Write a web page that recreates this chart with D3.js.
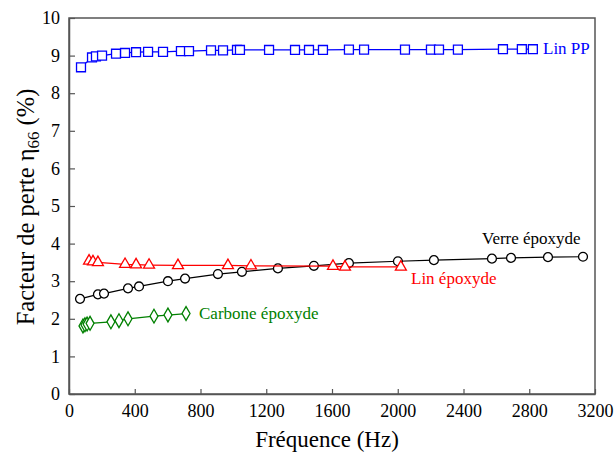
<!DOCTYPE html>
<html>
<head>
<meta charset="utf-8">
<script src="https://cdn.jsdelivr.net/npm/d3@7"></script>
<style>
body{margin:0;background:#fff;}
svg text{font-family:'Liberation Serif',serif;}
</style>
</head>
<body>
<div id="chart"></div>
<script>
// Lin PP (squares)
var linPP_x=[73,140,164,201,286,341,408,481,572,681,730,864,937,1022,1040,1217,1375,1460,1545,1703,1795,2044,2202,2251,2366,2640,2755,2822];
var linPP_y=[8.69,8.95,8.98,9.00,9.05,9.07,9.09,9.10,9.10,9.12,9.12,9.14,9.14,9.15,9.15,9.15,9.15,9.15,9.15,9.16,9.16,9.16,9.16,9.16,9.16,9.17,9.17,9.17];
// Verre epoxyde (circles)
var verre_x=[67,176,213,359,426,602,706,906,1052,1271,1490,1703,2001,2220,2573,2689,2914,3127];
var verre_y=[2.53,2.65,2.67,2.81,2.86,3.00,3.07,3.19,3.25,3.34,3.41,3.48,3.53,3.56,3.60,3.62,3.64,3.65];
// Lin epoxyde (triangles)
var linEp_x=[122,146,176,341,408,487,663,967,1107,1606,1679,2019];
var linEp_y=[3.54,3.52,3.50,3.45,3.44,3.43,3.42,3.42,3.41,3.40,3.38,3.38];
// Carbone epoxyde (diamonds)
var carb_x=[85,97,110,128,255,304,359,517,602,712];
var carb_y=[1.81,1.84,1.86,1.88,1.92,1.95,2.00,2.07,2.10,2.14];

var xTicks=[0,400,800,1200,1600,2000,2400,2800,3200];
var yTicks=[0,1,2,3,4,5,6,7,8,9,10];

var width=615,height=454;
var m_left=69,m_right=595,m_top=18,m_bottom=394;

var svg=d3.select('#chart').append('svg')
    .attr('width',width)
    .attr('height',height)
    .attr('font-family','Liberation Serif');

var x=d3.scaleLinear().domain([0,3200]).range([m_left,m_right]);
var y=d3.scaleLinear().domain([0,10]).range([m_bottom,m_top]);

// frame
svg.append('rect')
    .attr('x',m_left).attr('y',m_top)
    .attr('width',m_right-m_left).attr('height',m_bottom-m_top)
    .style('fill','none').style('stroke','#555').style('stroke-width',1.5);

var xAxis=svg.append('g')
    .attr('transform','translate(0,'+m_bottom+')')
    .call(d3.axisBottom(x).tickValues(xTicks).tickFormat(d3.format('d')).tickSizeInner(-5).tickSizeOuter(0).tickPadding(10));
var yAxis=svg.append('g')
    .attr('transform','translate('+m_left+',0)')
    .call(d3.axisLeft(y).tickValues(yTicks).tickFormat(d3.format('d')).tickSizeInner(-6).tickSizeOuter(0).tickPadding(9));

[xAxis,yAxis].forEach(function(a){
    a.attr('font-family',null).attr('font-size',null);
    a.select('.domain').style('stroke','#555').style('stroke-width',1.5);
    a.selectAll('.tick line').style('stroke','#555').style('stroke-width',1.2);
    a.selectAll('.tick text').attr('font-size',18).attr('fill','#000');
});

function series(xs,ys,color,shape,size){
    var pts=xs.map(function(v,i){return [v,ys[i]];});
    var line=d3.line().x(function(d){return x(d[0]);}).y(function(d){return y(d[1]);});
    svg.append('path')
        .datum(pts)
        .attr('d',line)
        .style('fill','none')
        .style('stroke',color)
        .style('stroke-width',1.2);
    svg.append('g').selectAll('path').data(pts).enter()
        .append('path')
        .attr('d',d3.symbol().type(shape).size(size))
        .attr('transform',function(d){
            return 'translate('+x(d[0])+','+y(d[1])+')';
        })
        .style('fill','#fff')
        .style('stroke',color)
        .style('stroke-width',1.3);
}

series(linPP_x,linPP_y,'#0000ff',d3.symbolSquare,80);
series(verre_x,verre_y,'#000',d3.symbolCircle,62);
series(linEp_x,linEp_y,'#ff0000',d3.symbolTriangle,52);
series(carb_x,carb_y,'#008000',d3.symbolDiamond,55);

// series labels
function label(t,px,py,color){
    svg.append('text').attr('x',px).attr('y',py)
        .attr('font-size',17).attr('fill',color).text(t);
}
label('Lin PP',543,54,'#0000ff');
label('Verre époxyde',482,244,'#000');
label('Lin époxyde',411,284,'#ff0000');
label('Carbone époxyde',199,319,'#008000');

// axis titles
svg.append('text')
    .attr('x',(m_left+m_right)/2-5).attr('y',447)
    .attr('text-anchor','middle')
    .attr('font-size',23)
    .text('Fréquence (Hz)');

var yt=svg.append('text')
    .attr('transform','translate(34,207) rotate(-90)')
    .attr('text-anchor','middle')
    .attr('font-size',24.5);
yt.append('tspan').text('Facteur de perte η');
yt.append('tspan').attr('dy',5).attr('font-size',17).text('66');
yt.append('tspan').attr('dy',-5).text(' (%)');
</script>
</body>
</html>
